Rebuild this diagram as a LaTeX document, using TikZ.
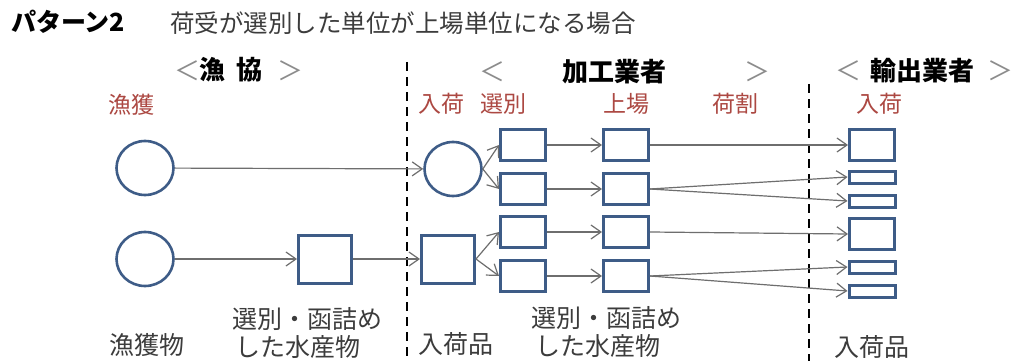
\documentclass[tikz,border=0pt]{standalone}
\usepackage{fontspec}
\setmainfont{Noto Sans CJK JP}
\usetikzlibrary{arrows.meta,shapes.geometric}
\definecolor{boxblue}{RGB}{62,92,135}
\definecolor{labred}{RGB}{172,72,66}
\definecolor{arrgray}{RGB}{110,110,110}
\definecolor{txtgray}{RGB}{60,60,60}
\definecolor{brkgray}{RGB}{140,140,140}
\tikzset{
  circ/.style={ellipse,draw=boxblue,line width=2.6pt,minimum width=57pt,minimum height=54pt,inner sep=0pt},
  bigbox/.style={rectangle,draw=boxblue,line width=3pt,minimum width=53pt,minimum height=48pt,inner sep=0pt},
  selbox/.style={rectangle,draw=boxblue,line width=3pt,minimum width=45pt,minimum height=31pt,inner sep=0pt},
  thinbox/.style={rectangle,draw=boxblue,line width=3pt,minimum width=46pt,minimum height=12pt,inner sep=0pt},
  flow/.style={draw=arrgray,line width=1.2pt,-{Straight Barb[length=10pt,width=14pt,line width=1.2pt]}},
  divider/.style={draw=black,line width=2pt,dash pattern=on 9pt off 6pt},
  redlab/.style={text=labred,font=\fontsize{23}{26}\selectfont,inner sep=0pt},
  botlab/.style={text=txtgray,font=\fontsize{25}{28}\selectfont,inner sep=0pt,anchor=west},
  head/.style={text=black,font=\fontsize{26}{30}\selectfont\bfseries,inner sep=0pt},
  brk/.style={text=brkgray,font=\fontsize{26}{30}\selectfont,inner sep=0pt},
}
\begin{document}
\begin{tikzpicture}[x=1pt,y=-1pt]
\useasboundingbox[fill=white] (0,0) rectangle (1023,361);
% title
\node[anchor=west,inner sep=0pt,font=\fontsize{25}{30}\selectfont\bfseries] (title) at (11,22) {パターン2};
\node[anchor=west,inner sep=0pt,text=txtgray,font=\fontsize{24.5}{30}\selectfont] (subtitle) at (170,23) {荷受が選別した単位が上場単位になる場合};
% headers
\node[brk] (lb1) at (187,71) {＜};
\node[head,anchor=west] (gyokyo) at (199,70) {漁\hspace{0.45em}協};
\node[brk] (rb1) at (290,71) {＞};
\node[brk] (lb2) at (492,72) {＜};
\node[head] (kako) at (614,72) {加工業者};
\node[brk] (rb2) at (757,72) {＞};
\node[brk] (lb3) at (848,71) {＜};
\node[head] (yushutsu) at (922,71) {輸出業者};
\node[brk] (rb3) at (1000,71) {＞};
% dividers
\coordinate (d1t) at (407,62);
\coordinate (d1b) at (407,361);
\coordinate (d2t) at (809,84);
\coordinate (d2b) at (809,361);
\draw[divider] (d1t) -- (d1b);
\draw[divider] (d2t) -- (d2b);
% red labels
\node[redlab] (l1) at (131,105) {漁獲};
\node[redlab] (l2) at (441,104) {入荷};
\node[redlab] (l3) at (503,104) {選別};
\node[redlab] (l4) at (626,104) {上場};
\node[redlab] (l5) at (735,104) {荷割};
\node[redlab] (l6) at (879,104) {入荷};
% shapes
\node[circ] (c1) at (145,168) {};
\node[circ] (c2) at (145,259) {};
\node[bigbox] (b1) at (325,259) {};
\node[circ] (c3) at (453,169) {};
\node[bigbox] (r1) at (448,259) {};
\node[selbox] (s1) at (523,145) {};
\node[selbox] (s2) at (523,189) {};
\node[selbox] (s3) at (523,232) {};
\node[selbox] (s4) at (523,276) {};
\node[selbox] (u1) at (626,145) {};
\node[selbox] (u2) at (626,189) {};
\node[selbox] (u3) at (626,232) {};
\node[selbox] (u4) at (626,276) {};
\node[selbox] (e1) at (872,145) {};
\node[thinbox] (e2) at (872,177) {};
\node[thinbox] (e3) at (872,201) {};
\node[selbox] (e4) at (872,234) {};
\node[thinbox] (e5) at (872,267) {};
\node[thinbox] (e6) at (872,291) {};
% flows
\draw[flow] (c1) -- (c3);
\draw[flow] (c2) -- (b1);
\draw[flow] (b1) -- (r1);
\draw[flow] (c3.east) -- (s1.west);
\draw[flow] (c3.east) -- (s2.west);
\draw[flow] (r1.east) -- (s3.west);
\draw[flow] (r1.east) -- (s4.west);
\draw[flow] (s1) -- (u1);
\draw[flow] (s2) -- (u2);
\draw[flow] (s3) -- (u3);
\draw[flow] (s4) -- (u4);
\draw[flow] (u1.east) -- (e1.west);
\draw[flow] (u2.east) -- (e2.west);
\draw[flow] (u2.east) -- (e3.west);
\draw[flow] (u3.east) -- (e4.west);
\draw[flow] (u4.east) -- (e5.west);
\draw[flow] (u4.east) -- (e6.west);
% bottom labels
\node[botlab] (t1) at (109,345) {漁獲物};
\node[botlab] (t2a) at (232,319) {選別・函詰め};
\node[botlab] (t2b) at (235,347) {した水産物};
\node[botlab] (t3) at (418,344) {入荷品};
\node[botlab] (t4a) at (531,318) {選別・函詰め};
\node[botlab] (t4b) at (535,346) {した水産物};
\node[botlab] (t5) at (834,347) {入荷品};
\end{tikzpicture}
\end{document}
